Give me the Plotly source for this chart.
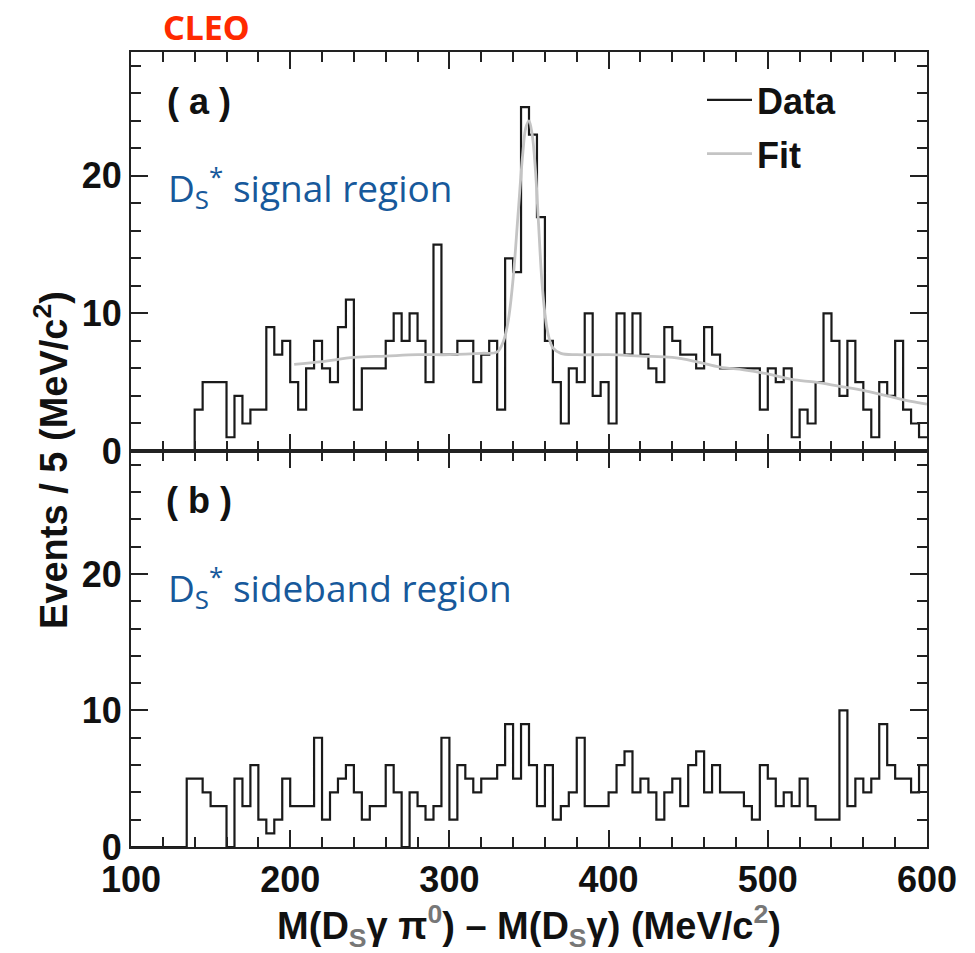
import plotly.graph_objects as go

# ---------------- data ----------------
bin_low = list(range(100, 600, 5))  # 5 MeV bins, 100..595
bin_width = 5

signal_counts = [0, 0, 0, 0, 0, 0, 0, 0,            # 100-135
                 3, 5, 5, 5, 1, 4, 2, 3, 3, 9,      # 140-185
                 7, 8, 5, 3, 6, 8, 6, 5, 9, 11,     # 190-235
                 3, 6, 6, 6, 8, 10, 8, 10, 8, 5,    # 240-285
                 15, 7, 7, 8, 8, 5, 7, 8, 3, 14,    # 290-335
                 13, 25, 23, 17, 8, 5, 2, 6, 5, 10, # 340-385
                 4, 5, 2, 10, 7, 10, 7, 6, 5, 9,    # 390-435
                 8, 7, 7, 6, 9, 7, 6, 6, 6, 6,      # 440-485
                 6, 3, 6, 5, 6, 1, 3, 2, 5, 10,     # 490-535
                 8, 4, 8, 5, 3, 1, 5, 4, 8, 3,      # 540-585
                 2, 1]                              # 590-595

sideband_counts = [0, 0, 0, 0, 0, 0, 0,             # 100-130
                   5, 5, 4, 3, 3, 0, 5, 3, 6, 2,    # 135-180
                   1, 2, 5, 3, 3, 3, 8, 2, 4, 5,    # 185-230
                   6, 4, 2, 3, 3, 6, 4, 0, 4, 3,    # 235-280
                   2, 3, 8, 2, 6, 5, 4, 5, 5, 6,    # 285-330
                   9, 5, 9, 6, 3, 6, 2, 3, 4, 8,    # 335-380
                   3, 3, 3, 4, 6, 7, 4, 5, 4, 2,    # 385-430
                   4, 5, 3, 6, 7, 4, 6, 4, 4, 4,    # 435-480
                   3, 2, 6, 5, 3, 4, 3, 5, 3, 2,    # 485-530
                   2, 2, 10, 3, 5, 4, 5, 9, 6, 5,   # 535-580
                   5, 4, 6]                         # 585-595

fit_x = [202.5, 220, 240, 260, 280, 300, 320, 330, 334, 337, 340, 343, 346,
         348, 350, 352, 354, 356, 358, 360, 362, 365, 370, 380, 400, 420,
         440, 455, 470, 485, 500, 515, 530, 545, 560, 575, 590, 600]
fit_y = [6.3, 6.5, 6.8, 6.9, 7.0, 7.0, 7.1, 7.2, 8.0, 9.5, 12.5, 17.0, 21.5,
         23.5, 24.0, 23.0, 20.5, 16.5, 12.5, 10.0, 8.5, 7.5, 7.1, 7.0, 7.0, 6.9,
         6.8, 6.5, 6.1, 5.9, 5.6, 5.2, 5.0, 4.7, 4.4, 4.0, 3.6, 3.4]

x_range = [100, 600]
y_range = [0, 29]

# ---------------- figure ----------------
W, H = 975, 953
L, R, T, B = 131, 48, 52, 106

def px(xp):
    return (xp - L) / (W - L - R)

def py(yp):
    return (H - B - yp) / (H - T - B)

split = py(451)

edges = bin_low + [bin_low[-1] + bin_width]
sig_y = signal_counts + [signal_counts[-1]]
sb_y = sideband_counts + [sideband_counts[-1]]

fig = go.Figure()
fig.add_trace(go.Scatter(x=edges, y=sig_y, mode="lines", line_shape="hv",
                         line=dict(color="#1a1a1a", width=2.2), name="Data",
                         legendgroup="d", xaxis="x", yaxis="y"))
fig.add_trace(go.Scatter(x=fit_x, y=fit_y, mode="lines", line_shape="spline",
                         line=dict(color="#c4c4c4", width=2.8), name="Fit",
                         legendgroup="f", xaxis="x", yaxis="y"))
fig.add_trace(go.Scatter(x=edges, y=sb_y, mode="lines", line_shape="hv",
                         line=dict(color="#1a1a1a", width=2.2), showlegend=False,
                         xaxis="x2", yaxis="y2"))

SANS = "Liberation Sans, Arial, sans-serif"
tickfont = dict(family=SANS, size=36, color="#111", weight="bold")
axcol = "#222222"

def xax(**kw):
    d = dict(range=x_range, tick0=100, dtick=100, showgrid=False, zeroline=False,
             showline=True, linecolor=axcol, linewidth=2, mirror="ticks",
             ticks="inside", ticklen=17, tickwidth=2, tickcolor=axcol,
             minor=dict(ticks="inside", ticklen=10, tickwidth=2, tickcolor=axcol, dtick=20),
             tickfont=tickfont)
    d.update(kw)
    return d

def yax(**kw):
    d = dict(range=y_range, tick0=0, dtick=10, showgrid=False, zeroline=False,
             showline=True, linecolor=axcol, linewidth=2, mirror="ticks",
             ticks="inside", ticklen=17, tickwidth=2, tickcolor=axcol,
             minor=dict(ticks="inside", ticklen=10, tickwidth=2, tickcolor=axcol, dtick=2),
             tickfont=tickfont)
    d.update(kw)
    return d

def tick_only(base, **kw):
    # companion axes without labels: they only draw the inside tick marks
    d = base(**kw)
    d["showticklabels"] = False
    d["tickfont"] = dict(size=12)
    return d

xtitle = ("M(D<span style='color:#777'><sub>S</sub></span>γ π<span style='color:#777'><sup>0</sup></span>)"
          " – M(D<span style='color:#777'><sub>S</sub></span>γ) (MeV/c<span style='color:#777'><sup>2</sup></span>)")

fig.update_layout(
    xaxis=xax(domain=[0, 1], anchor="y", showticklabels=False),
    yaxis=yax(domain=[split, 1], anchor="x"),
    xaxis2=xax(domain=[0, 1], anchor="y2",
               title=dict(text=xtitle, standoff=0,
                          font=dict(family=SANS, size=38, color="#111", weight="bold"))),
    yaxis2=yax(domain=[0, split], anchor="x2"),
    # tick-mark companions occupying the same areas (not overlaying)
    xaxis3=tick_only(xax, domain=[0, 1], anchor="y3"),
    yaxis3=tick_only(yax, domain=[split, 1], anchor="x3"),
    xaxis4=tick_only(xax, domain=[0, 1], anchor="y4"),
    yaxis4=tick_only(yax, domain=[0, split], anchor="x4"),
)

blue = "#17599b"
annos = [
    dict(text="CLEO", x=px(206), y=py(27), font=dict(family="Noto Sans, sans-serif", size=34, color="#ff2a00", weight="bold")),
    dict(text="( a )", x=px(199), y=py(102), font=dict(family=SANS, size=36, color="#111", weight="bold")),
    dict(text="( b )", x=px(199), y=py(500), font=dict(family=SANS, size=36, color="#111", weight="bold")),
    dict(text="D<sub>S</sub><sup>*</sup> signal region", x=px(166), y=py(188), xanchor="left",
         font=dict(family="Open Sans, sans-serif", size=37, color=blue)),
    dict(text="D<sub>S</sub><sup>*</sup> sideband region", x=px(166), y=py(587), xanchor="left",
         font=dict(family="Open Sans, sans-serif", size=37, color=blue)),
    dict(text="Events / 5 (MeV/c<sup>2</sup>)", x=px(51), y=py(460), textangle=-90,
         font=dict(family=SANS, size=38, color="#111", weight="bold")),
]
for a in annos:
    a.setdefault("xanchor", "center")
    fig.add_annotation(xref="paper", yref="paper", showarrow=False, yanchor="middle", **a)

fig.update_layout(
    template="none",
    width=W, height=H,
    margin=dict(l=L, r=R, t=T, b=B),
    paper_bgcolor="white", plot_bgcolor="rgba(0,0,0,0)",
    showlegend=True,
    legend=dict(x=px(702), y=py(70), xanchor="left", yanchor="top", itemwidth=45,
                bgcolor="rgba(0,0,0,0)", traceorder="grouped", tracegroupgap=4,
                font=dict(family=SANS, size=36, color="#111", weight="bold")),
)

fig.write_html("out.html")
